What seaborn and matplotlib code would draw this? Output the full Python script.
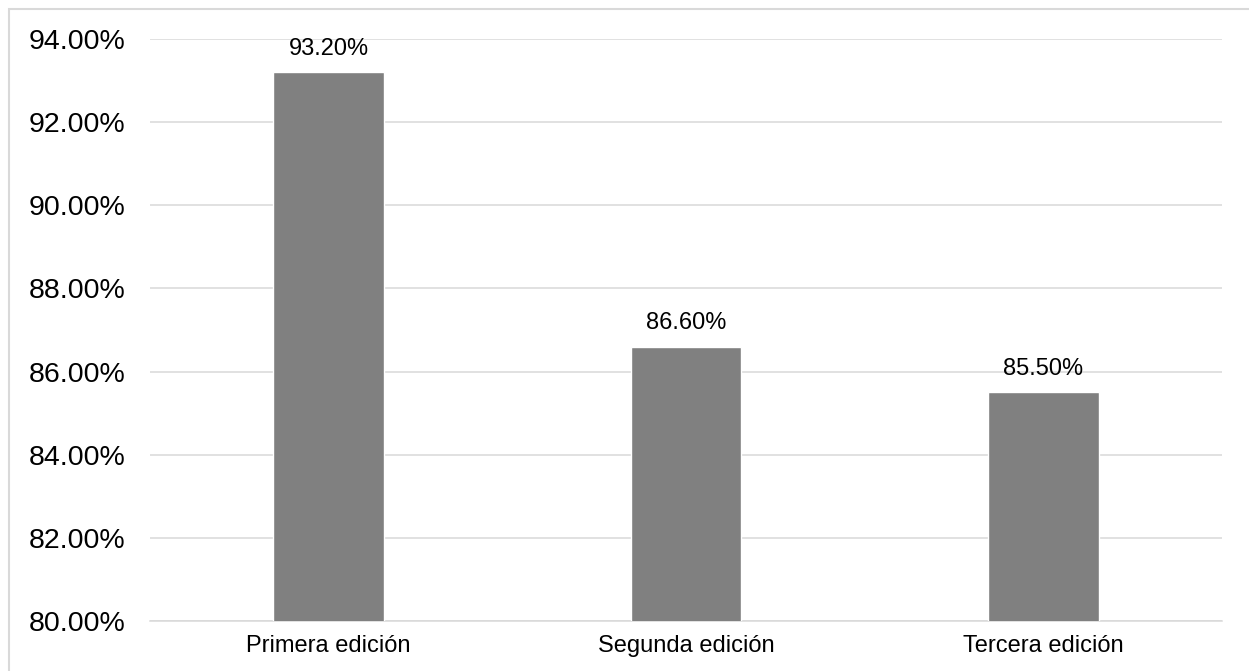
import matplotlib
matplotlib.use('Agg')
import matplotlib.pyplot as plt
import seaborn as sns
import pandas as pd
from matplotlib.patches import Rectangle

# data
categories = ['Primera edición', 'Segunda edición', 'Tercera edición']
values = [93.20, 86.60, 85.50]
y_ticks = [80, 82, 84, 86, 88, 90, 92, 94]

df = pd.DataFrame({'edicion': categories, 'valor': values})

sns.set_theme(style='white')
plt.rcParams['font.family'] = ['Liberation Sans', 'DejaVu Sans']

fig = plt.figure(figsize=(12.49, 6.71), dpi=100)
ax = fig.add_axes([150 / 1249, 50 / 671, 1072 / 1249, 582 / 671])

# light frame round the whole chart
fig.patches.append(Rectangle((9 / 1249, -0.05), 1.2, (671 - 9) / 671 + 0.05,
                             transform=fig.transFigure, fill=False,
                             edgecolor='#d9d9d9', linewidth=1.5))

sns.barplot(data=df, x='edicion', y='valor', color='#808080', saturation=1,
            width=0.31, ax=ax, zorder=3)

ax.set_ylim(80, 94)
ax.set_xlim(-0.5, 2.5)
ax.set_yticks(y_ticks)
ax.set_yticklabels([f'{t:.2f}%' for t in y_ticks], fontsize=20.5)
ax.tick_params(axis='y', length=0, pad=18, labelcolor='black')
ax.tick_params(axis='x', length=0, pad=10, labelsize=17, labelcolor='black')
ax.set_xlabel('')
ax.set_ylabel('')

ax.grid(axis='y', color='#d9d9d9', linewidth=1.1, zorder=0)
for s in ['top', 'right', 'left']:
    ax.spines[s].set_visible(False)
ax.spines['bottom'].set_color('#d9d9d9')
ax.spines['bottom'].set_linewidth(1.1)

for i, v in enumerate(values):
    ax.annotate(f'{v:.2f}%', (i, v), xytext=(0, 9), textcoords='offset points',
                ha='center', va='bottom', fontsize=17, color='black')

fig.savefig('out.png', dpi=100)
